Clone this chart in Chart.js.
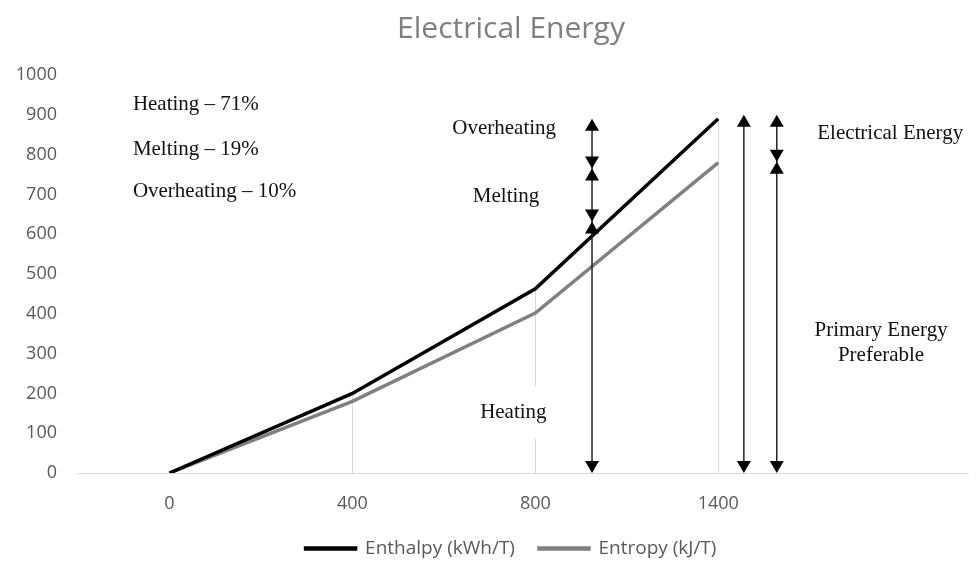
<!DOCTYPE html>
<html>
<head>
<meta charset="utf-8">
<script src="https://cdn.jsdelivr.net/npm/chart.js@4.4.0/dist/chart.umd.min.js"></script>
<style>
  html, body { margin: 0; padding: 0; background: #fff; }
  #wrap { width: 978px; height: 561px; }
</style>
</head>
<body>
<div id="wrap"><canvas id="energyChart"></canvas></div>
<script>
// categories and series
const xLabels = ['0', '400', '800', '1400'];
const enthalpy = [0, 200, 463, 890];
const entropy = [0, 180, 402, 780];
const yMin = 0, yMax = 1000, yStep = 100;

// annotation text, placed in axis units (x = category index)
const notes = [
  { text: 'Heating – 71%', x: -0.2, y: 927, align: 'left' },
  { text: 'Melting – 19%', x: -0.2, y: 812, align: 'left' },
  { text: 'Overheating – 10%', x: -0.2, y: 707, align: 'left' },
  { text: 'Overheating', x: 1.83, y: 865, align: 'center' },
  { text: 'Melting', x: 1.84, y: 695, align: 'center' },
  { text: 'Heating', x: 1.88, y: 152, align: 'center', bg: true },
  { text: 'Electrical Energy', x: 3.94, y: 852, align: 'center' },
  { text: 'Primary Energy', x: 3.89, y: 357, align: 'center' },
  { text: 'Preferable', x: 3.89, y: 295, align: 'center' }
];

// double arrows: x in category index, joints = where two heads meet
const arrows = [
  { x: 2.31, from: 0, to: 890, joints: [765, 632] },
  { x: 3.14, from: 0, to: 900, joints: [] },
  { x: 3.32, from: 0, to: 900, joints: [782] }
];

const serif = '"Liberation Serif", "Times New Roman", serif';
const sans = '"Open Sans", "Liberation Sans", sans-serif';

// light drop lines from the top point of each category to the axis
const dropLines = {
  id: 'dropLines',
  beforeDatasetsDraw(chart) {
    const { ctx, scales: { x, y } } = chart;
    ctx.save();
    ctx.strokeStyle = '#d9d9d9';
    ctx.lineWidth = 1;
    // horizontal axis line, stops short of the right edge
    const y0 = Math.round(y.getPixelForValue(yMin)) + 0.5;
    ctx.beginPath();
    ctx.moveTo(x.left, y0);
    ctx.lineTo(x.getPixelForValue(4.37), y0);
    ctx.stroke();
    xLabels.forEach((_, i) => {
      const top = Math.max(enthalpy[i], entropy[i]);
      const px = Math.round(x.getPixelForValue(i)) + 0.5;
      ctx.beginPath();
      ctx.moveTo(px, y.getPixelForValue(top));
      ctx.lineTo(px, y.getPixelForValue(yMin));
      ctx.stroke();
    });
    ctx.restore();
  }
};

function drawHead(ctx, px, tipY, dir) {
  // dir -1 = pointing up, 1 = pointing down
  const w = 7, h = 12;
  ctx.beginPath();
  ctx.moveTo(px, tipY);
  ctx.lineTo(px - w, tipY - dir * h);
  ctx.lineTo(px + w, tipY - dir * h);
  ctx.closePath();
  ctx.fill();
}

const annotations = {
  id: 'annotations',
  afterDatasetsDraw(chart) {
    const { ctx, scales: { x, y } } = chart;
    ctx.save();

    // text notes
    ctx.font = '21px ' + serif;
    ctx.textBaseline = 'middle';
    notes.forEach(n => {
      const px = x.getPixelForValue(n.x);
      const py = y.getPixelForValue(n.y);
      if (n.bg) {
        const tw = ctx.measureText(n.text).width;
        ctx.fillStyle = '#fff';
        ctx.fillRect(px - tw / 2 - 4, py - 26, tw + 8, 52);
      }
      ctx.fillStyle = '#111';
      ctx.textAlign = n.align;
      ctx.fillText(n.text, px, py);
    });

    // arrows
    ctx.strokeStyle = '#222';
    ctx.fillStyle = '#000';
    ctx.lineWidth = 1.5;
    arrows.forEach(a => {
      const px = x.getPixelForValue(a.x);
      const yTop = y.getPixelForValue(a.to);
      const yBot = y.getPixelForValue(a.from);
      ctx.beginPath();
      ctx.moveTo(px, yTop + 4);
      ctx.lineTo(px, yBot - 4);
      ctx.stroke();
      drawHead(ctx, px, yTop, -1);
      drawHead(ctx, px, yBot, 1);
      a.joints.forEach(j => {
        const py = y.getPixelForValue(j);
        drawHead(ctx, px, py, 1);
        drawHead(ctx, px, py, -1);
      });
    });
    ctx.restore();
  }
};

new Chart(document.getElementById('energyChart'), {
  type: 'line',
  data: {
    datasets: [
      {
        label: 'Enthalpy (kWh/T)',
        data: enthalpy.map((v, i) => ({ x: i, y: v })),
        borderColor: '#000',
        backgroundColor: '#000',
        borderWidth: 3.5,
        pointRadius: 0,
        tension: 0
      },
      {
        label: 'Entropy (kJ/T)',
        data: entropy.map((v, i) => ({ x: i, y: v })),
        borderColor: '#808080',
        backgroundColor: '#808080',
        borderWidth: 3.5,
        pointRadius: 0,
        tension: 0
      }
    ]
  },
  options: {
    responsive: true,
    maintainAspectRatio: false,
    animation: false,
    // right padding is negative so title and legend sit centred as in the original
    layout: { padding: { left: 12, right: -32, top: 0, bottom: -7 } },
    plugins: {
      title: {
        display: true,
        text: 'Electrical Energy',
        color: '#7f7f7f',
        font: { family: sans, size: 30, weight: 'normal' },
        padding: { top: 11, bottom: 28 }
      },
      legend: {
        position: 'bottom',
        labels: {
          color: '#595959',
          font: { family: sans, size: 19 },
          boxWidth: 50,
          boxHeight: 1,
          padding: 24
        }
      },
      tooltip: { enabled: false }
    },
    scales: {
      x: {
        type: 'linear',
        min: -0.5,
        max: 4.42,
        afterBuildTicks: s => { s.ticks = xLabels.map((_, i) => ({ value: i })); },
        afterFit: s => { s.height = 42; },
        ticks: {
          callback: v => xLabels[v],
          color: '#595959',
          font: { family: sans, size: 18 },
          padding: 20,
          autoSkip: false,
          maxRotation: 0
        },
        grid: { display: false, drawTicks: false },
        border: { display: false }
      },
      y: {
        min: yMin,
        max: yMax,
        afterFit: s => { s.width = 66; },
        ticks: {
          stepSize: yStep,
          callback: v => String(v),
          color: '#595959',
          font: { family: sans, size: 18 },
          padding: 21
        },
        grid: { display: false, drawTicks: false },
        border: { display: false }
      }
    }
  },
  plugins: [dropLines, annotations]
});
</script>
</body>
</html>
